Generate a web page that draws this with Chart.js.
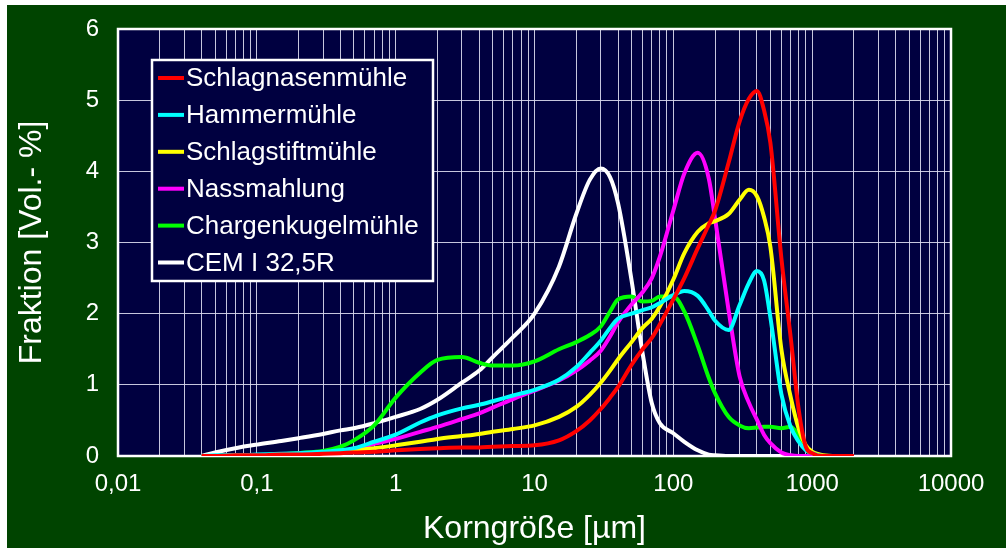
<!DOCTYPE html>
<html>
<head>
<meta charset="utf-8">
<script src="https://cdn.jsdelivr.net/npm/chart.js@4/dist/chart.umd.min.js"></script>
<style>
body { margin:0; background:#fff; }
#wrap { position:absolute; left:7px; top:5px; width:999px; height:543px; }
</style>
</head>
<body>
<div id="wrap"><canvas id="chart" width="999" height="543"></canvas></div>
<script>
var sizes = [0.04, 0.05, 0.07, 0.1, 0.15, 0.2, 0.3, 0.4, 0.5, 0.7, 1, 1.5, 2, 3, 4, 5, 7, 10, 15, 20, 25, 30, 35, 40, 50, 60, 70, 80, 100, 120, 150, 180, 200, 250, 300, 350, 400, 450, 500, 600, 700, 800, 900, 1000, 1200, 1500, 2000];

var schlagnasen = [0, 0, 0.01, 0.01, 0.02, 0.02, 0.03, 0.04, 0.05, 0.06, 0.08, 0.1, 0.11, 0.12, 0.12, 0.13, 0.14, 0.15, 0.22, 0.35, 0.5, 0.66, 0.82, 0.97, 1.28, 1.5, 1.66, 1.85, 2.2, 2.5, 2.92, 3.25, 3.45, 4.12, 4.7, 5.02, 5.13, 4.86, 4.4, 2.78, 1.67, 0.65, 0.13, 0.04, 0, 0, 0];
var hammer = [0, 0.01, 0.01, 0.02, 0.03, 0.04, 0.06, 0.08, 0.11, 0.2, 0.3, 0.47, 0.57, 0.67, 0.72, 0.77, 0.85, 0.93, 1.07, 1.25, 1.45, 1.62, 1.8, 1.93, 2.0, 2.05, 2.09, 2.15, 2.26, 2.32, 2.25, 2.04, 1.9, 1.77, 2.12, 2.43, 2.6, 2.47, 1.95, 0.87, 0.41, 0.2, 0.08, 0.04, 0, 0, 0];
var schlagstift = [0, 0, 0.01, 0.01, 0.02, 0.03, 0.04, 0.06, 0.08, 0.11, 0.15, 0.2, 0.24, 0.28, 0.31, 0.34, 0.38, 0.43, 0.55, 0.69, 0.86, 1.03, 1.2, 1.36, 1.6, 1.8, 1.93, 2.1, 2.48, 2.85, 3.15, 3.27, 3.3, 3.4, 3.6, 3.74, 3.65, 3.36, 2.94, 1.5, 0.83, 0.38, 0.15, 0.06, 0.01, 0, 0];
var nass = [0, 0, 0.01, 0.01, 0.02, 0.03, 0.05, 0.07, 0.1, 0.17, 0.24, 0.34, 0.41, 0.52, 0.6, 0.68, 0.8, 0.92, 1.06, 1.2, 1.34, 1.48, 1.68, 1.88, 2.13, 2.3, 2.5, 2.8, 3.45, 3.97, 4.26, 3.9, 3.33, 2.05, 1.12, 0.75, 0.51, 0.3, 0.18, 0.05, 0.01, 0, 0, 0, 0, 0, 0];
var charge = [0, 0, 0.01, 0.01, 0.02, 0.04, 0.07, 0.13, 0.22, 0.43, 0.82, 1.17, 1.35, 1.39, 1.31, 1.27, 1.27, 1.33, 1.5, 1.6, 1.7, 1.82, 2.03, 2.2, 2.24, 2.17, 2.18, 2.24, 2.24, 2.03, 1.55, 1.1, 0.88, 0.55, 0.43, 0.39, 0.4, 0.41, 0.41, 0.39, 0.41, 0.28, 0.1, 0.02, 0, 0, 0];
var cem = [0, 0.05, 0.11, 0.16, 0.21, 0.25, 0.31, 0.36, 0.39, 0.46, 0.55, 0.66, 0.79, 1.03, 1.2, 1.39, 1.67, 2.0, 2.66, 3.4, 3.88, 4.04, 3.92, 3.55, 2.47, 1.45, 0.74, 0.46, 0.32, 0.2, 0.08, 0.02, 0.01, 0, 0, 0, 0, 0, 0, 0, 0, 0, 0, 0, 0, 0, 0];

var seriesNames = ["Schlagnasenmühle", "Hammermühle", "Schlagstiftmühle", "Nassmahlung", "Chargenkugelmühle", "CEM I 32,5R"];
var seriesColors = ["#ff0000", "#00ffff", "#ffff00", "#ff00ff", "#00ff00", "#ffffff"];
var seriesValues = [schlagnasen, hammer, schlagstift, nass, charge, cem];

var decadeValues = [0.01, 0.1, 1, 10, 100, 1000, 10000];
var decadeLabels = ["0,01", "0,1", "1", "10", "100", "1000", "10000"];

var FONT = "'Liberation Sans', Arial, sans-serif";

function toPoints(vals) {
	return sizes.map(function(s, i){ return {x: s, y: vals[i]}; });
}

var datasets = [];
for (var i = 0; i < seriesNames.length; i++) {
	datasets.push({
		label: seriesNames[i],
		data: toPoints(seriesValues[i]),
		borderColor: seriesColors[i],
		backgroundColor: seriesColors[i],
		borderWidth: 4,
		pointRadius: 0,
		cubicInterpolationMode: 'monotone',
		fill: false
	});
}

var backgrounds = {
	id: 'backgrounds',
	beforeDraw: function(chart) {
		var ctx = chart.ctx, a = chart.chartArea;
		ctx.save();
		ctx.fillStyle = '#004400';
		ctx.fillRect(0, 0, chart.width, chart.height);
		ctx.fillStyle = '#000040';
		ctx.fillRect(a.left, a.top, a.right - a.left, a.bottom - a.top);
		ctx.restore();
	},
	beforeDatasetsDraw: function(chart) {
		var ctx = chart.ctx, a = chart.chartArea;
		ctx.save();
		ctx.strokeStyle = '#ffffff';
		ctx.lineWidth = 2.5;
		ctx.strokeRect(a.left, a.top, a.right - a.left, a.bottom - a.top);
		ctx.restore();
	}
};

var boxLegend = {
	id: 'boxLegend',
	afterDraw: function(chart) {
		var ctx = chart.ctx, a = chart.chartArea;
		var left = a.left + 34, top = a.top + 31, w = 281, h = 221;
		ctx.save();
		ctx.fillStyle = '#000040';
		ctx.fillRect(left, top, w, h);
		ctx.strokeStyle = '#ffffff';
		ctx.lineWidth = 2.5;
		ctx.strokeRect(left, top, w, h);
		ctx.font = "26px " + FONT;
		ctx.textBaseline = 'middle';
		ctx.textAlign = 'left';
		chart.data.datasets.forEach(function(ds, k) {
			var y = top + 18 + k * 36.9;
			ctx.strokeStyle = ds.borderColor;
			ctx.lineWidth = 4;
			ctx.beginPath();
			ctx.moveTo(left + 6, y);
			ctx.lineTo(left + 32, y);
			ctx.stroke();
			ctx.fillStyle = '#ffffff';
			ctx.fillText(ds.label, left + 34, y + 1);
		});
		ctx.restore();
	}
};

new Chart(document.getElementById('chart'), {
	type: 'line',
	data: { datasets: datasets },
	plugins: [backgrounds, boxLegend],
	options: {
		responsive: false,
		animation: false,
		devicePixelRatio: 1,
		layout: { padding: { left: 0, top: 24, right: 55, bottom: 0 } },
		plugins: { legend: { display: false }, tooltip: { enabled: false } },
		scales: {
			x: {
				type: 'logarithmic',
				min: 0.01,
				max: 10000,
				afterFit: function(scale){ scale.height = 92; },
				afterBuildTicks: function(scale) {
					var t = [];
					decadeValues.forEach(function(d, k) {
						if (k == decadeValues.length - 1) { t.push({value: d}); return; }
						for (var m = 1; m < 10; m++) t.push({value: Math.round(d * m * 1e6) / 1e6});
					});
					scale.ticks = t;
				},
				ticks: {
					autoSkip: false,
					maxRotation: 0,
					padding: 14,
					color: '#ffffff',
					font: { family: FONT, size: 24 },
					callback: function(value) {
						var k = decadeValues.indexOf(value);
						return k >= 0 ? decadeLabels[k] : '';
					}
				},
				grid: { color: 'rgba(220,220,240,0.9)', lineWidth: 1, drawTicks: false },
				border: { display: false },
				title: {
					display: true,
					text: 'Korngröße [µm]',
					color: '#ffffff',
					font: { family: FONT, size: 32 },
					padding: { top: 0, bottom: 0 }
				}
			},
			y: {
				min: 0,
				max: 6,
				afterFit: function(scale){
					scale.width = 111;
					scale.paddingTop = 0;
					scale.paddingBottom = 0;
				},
				ticks: {
					stepSize: 1,
					padding: 19,
					color: '#ffffff',
					font: { family: FONT, size: 24 }
				},
				grid: { color: 'rgba(220,220,240,0.9)', lineWidth: 1, drawTicks: false },
				border: { display: false },
				title: {
					display: true,
					text: 'Fraktion [Vol.- %]',
					color: '#ffffff',
					font: { family: FONT, size: 32 },
					padding: { top: 6, bottom: 0 }
				}
			}
		}
	}
});
</script>
</body>
</html>
